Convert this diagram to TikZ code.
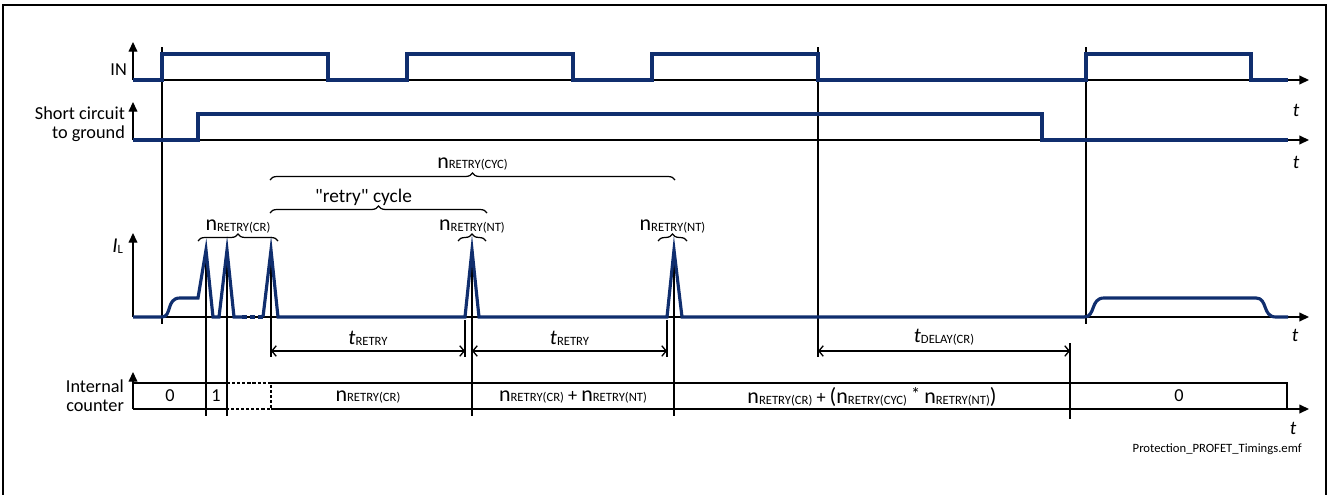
\documentclass[tikz,border=0pt]{standalone}
\usepackage{fontspec}
\setmainfont{Carlito}[Ligatures=TeXOff]
\usepackage{tikz}
\usetikzlibrary{arrows.meta, positioning, decorations.pathreplacing, calc}
\definecolor{signalcolor}{RGB}{16, 46, 110}
\newcommand{\nret}[1]{{\fontsize{12.5}{13}\selectfont n}\raisebox{-0.4pt}{\fontsize{7.2}{8}\selectfont RETRY(#1)}}
\newcommand{\tsub}[1]{{\fontsize{12}{13}\selectfont\itshape t}\raisebox{-0.4pt}{\fontsize{7.2}{8}\selectfont #1}}
\newcommand{\bigpar}[1]{{\fontsize{12.5}{13}\selectfont #1}}

\begin{document}
\begin{tikzpicture}[
    x=0.02cm, y=-0.02cm,
    axis/.style={line width=0.75pt, -{Triangle[length=5.5pt, width=5pt]}},
    signal/.style={draw=signalcolor, line width=1.8pt, line join=miter},
    marker/.style={line width=0.8pt},
    boxline/.style={line width=0.8pt},
    dimline/.style={line width=0.75pt, {Straight Barb[length=2.5pt, width=6pt]}-{Straight Barb[length=2.5pt, width=6pt]}},
    label/.style={font=\fontsize{10.4}{11}\selectfont, align=right, anchor=east, inner sep=1pt},
    value/.style={font=\fontsize{10.4}{11}\selectfont, inner sep=1pt},
    tlabel/.style={font=\fontsize{11}{12}\selectfont\itshape, inner sep=1pt},
    bracedeco/.style={decorate, decoration={brace, amplitude=4pt}, line width=0.7pt}
]
    \useasboundingbox (0,0) rectangle (1329,494);
    % Frame
    \draw[line width=0.7pt] (3,500) -- (3,5) -- (1326,5) -- (1326,500);

    % Axes
    \draw[axis] (133,80) -- (133,42);
    \draw[axis] (133,80) -- (1309,80);
    \draw[axis] (133,140) -- (133,102);
    \draw[axis] (133,140) -- (1309,140);
    \draw[axis] (133,317) -- (133,233);
    \draw[axis] (133,317) -- (1309,317);
    \draw[axis] (133,409) -- (133,372);

    % Axis labels
    \node[label] (inlabel) at (129,70) {IN};
    \node[label] (sclabel) at (127,124) {Short circuit\\to ground};
    \node[label] (illabel) at (125,246) {{\fontsize{12}{13}\selectfont\itshape I}\raisebox{-0.4pt}{\fontsize{7.2}{8}\selectfont L}};
    \node[label] (cntlabel) at (126,396) {Internal\\counter};
    \node[tlabel] (tin) at (1296,110) {t};
    \node[tlabel] (tsc) at (1296,162) {t};
    \node[tlabel] (til) at (1295,335) {t};
    \node[tlabel] (tcnt) at (1293,428) {t};

    % Event markers
    \draw[marker] (162,47) -- (162,324);
    \draw[marker] (818,47) -- (818,357);
    \draw[marker] (1086,47) -- (1086,324);
    \draw[marker] (206,245) -- (206,416);
    \draw[marker] (227,245) -- (227,416);
    \draw[marker] (271,245) -- (271,357);
    \draw[marker] (465,320) -- (465,357);
    \draw[marker] (472,245) -- (472,416);
    \draw[marker] (667,320) -- (667,357);
    \draw[marker] (674,245) -- (674,416);
    \draw[marker] (1070,343) -- (1070,419);

    % Signals
    \draw[signal] (133,80) -- (162,80) -- (162,54) -- (328,54) -- (328,80) -- (407,80) -- (407,54) -- (573,54) -- (573,80) -- (652,80) -- (652,54) -- (818,54) -- (818,80) -- (1086,80) -- (1086,54) -- (1251,54) -- (1251,80) -- (1288,80);
    \draw[signal] (133,140) -- (198,140) -- (198,114) -- (1042,114) -- (1042,140) -- (1288,140);
    \draw[signal] (133,317) -- (162,317) .. controls (172,317) and (166,298) .. (180,298) -- (198,298) -- (206,250) -- (213,317) -- (219,317) -- (227,250) -- (234,317) -- (242,317);
    \draw[signal, dash pattern=on 2.8pt off 1.8pt] (242,317) -- (263,317);
    \draw[signal] (263,317) -- (271,250) -- (278,317) -- (465,317) -- (472,250) -- (479,317) -- (667,317) -- (674,250) -- (682,317) -- (1084,317) .. controls (1096,317) and (1090,298) .. (1104,298) -- (1256,298) .. controls (1268,298) and (1262,317) .. (1276,317) -- (1288,317);

    % Braces
    \draw[bracedeco] (198,241) -- (278,241) node[midway, above=3pt, inner sep=1pt] (crbrace) {\nret{CR}};
    \draw[bracedeco] (458,241) -- (486,241) node[midway, above=3pt, inner sep=1pt] (ntbraceA) {\nret{NT}};
    \draw[bracedeco] (658,241) -- (687,241) node[midway, above=3pt, inner sep=1pt] (ntbraceB) {\nret{NT}};
    \draw[bracedeco] (270,213) -- (487,213) node[midway, above=3pt, xshift=-0.3cm, inner sep=1pt, font=\fontsize{11}{12}\selectfont] (cycbrace) {"retry" cycle};
    \draw[bracedeco] (270,180) -- (675,180) node[midway, above=4pt, inner sep=1pt] (nbrace) {\nret{CYC}};

    % Timings
    \draw[dimline] (271,351) -- (465,351) node[midway, above=2pt, inner sep=1pt] (tretA) {\tsub{RETRY}};
    \draw[dimline] (472,351) -- (667,351) node[midway, above=2pt, inner sep=1pt] (tretB) {\tsub{RETRY}};
    \draw[dimline] (818,351) -- (1070,351) node[midway, above=2pt, inner sep=1pt] (tdelay) {\tsub{DELAY(CR)}};

    % Internal counter
    \draw[boxline] (133,409) -- (227,409);
    \draw[boxline] (133,383) -- (227,383);
    \draw[line width=1pt, dash pattern=on 1.8pt off 1.1pt] (227,383) -- (271,383) -- (271,409) -- (227,409);
    \draw[boxline] (271,383) -- (1287,383) -- (1287,409);
    \draw[axis] (271,409) -- (1309,409);
    \node[value] (cnt0) at (170,396) {0};
    \node[value] (cnt1) at (216,396) {1};
    \node[value] (cntcr) at (368,397) {\nret{CR}};
    \node[value] (cntnt) at (573,397) {\nret{CR} + \nret{NT}};
    \node[value] (cntcyc) at (872,397) {\nret{CR} + \bigpar{(}\nret{CYC} \raisebox{1.5pt}{*} \nret{NT}\bigpar{)}};
    \node[value] (cntend) at (1179,396) {0};

    % File name
    \node[anchor=east, inner sep=0pt, font=\fontsize{7.2}{8}\selectfont] (fname) at (1302,449) {Protection\_PROFET\_Timings.emf};
\end{tikzpicture}
\end{document}
